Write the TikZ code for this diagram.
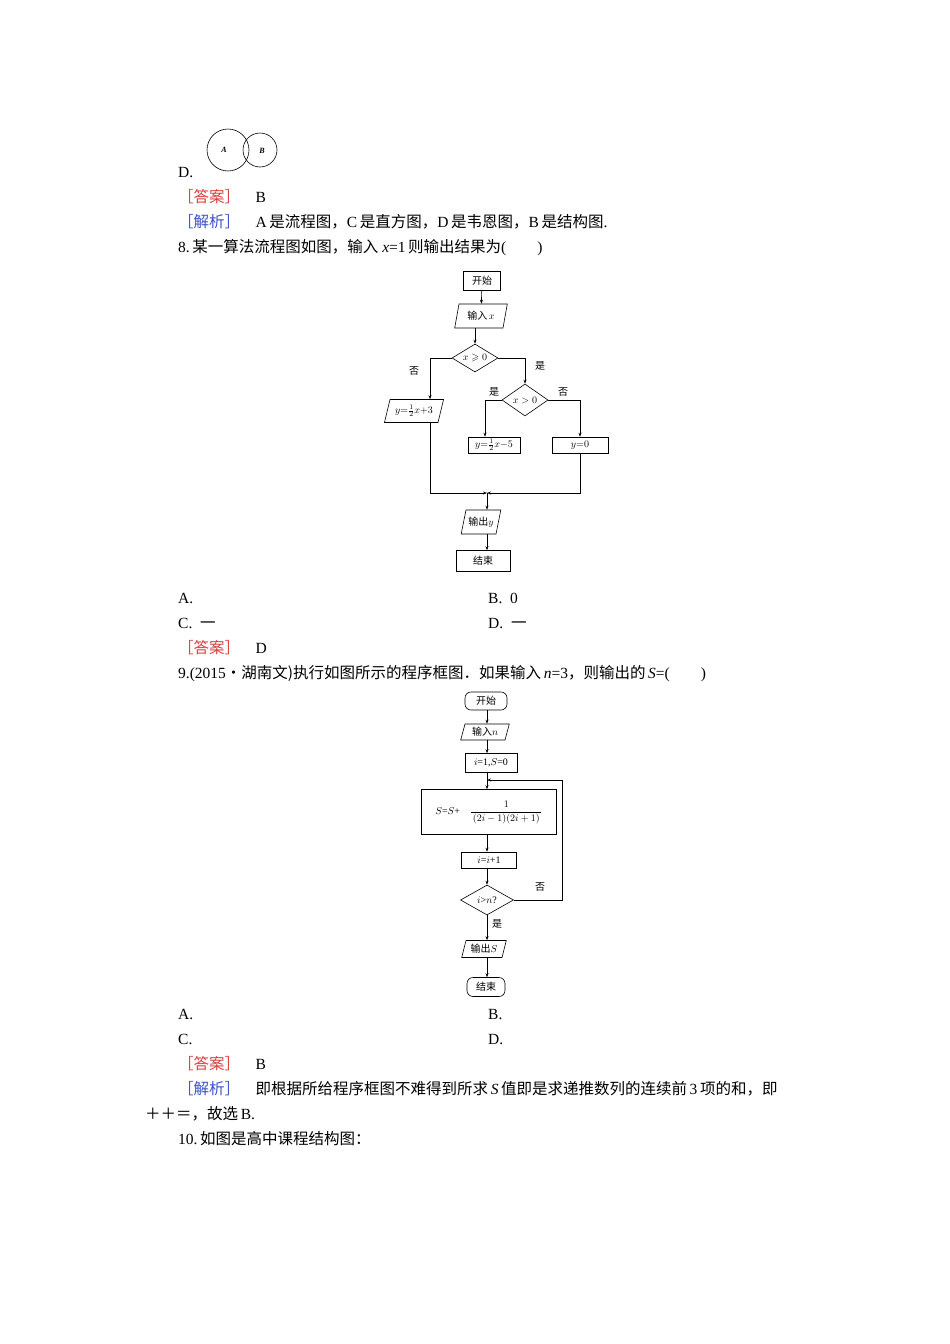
\documentclass[tikz,border=0pt]{standalone}
\usepackage{amsmath,amssymb}
\usepackage{fontspec}
\setmainfont{Liberation Serif}
\newfontfamily\cjk{Noto Sans CJK SC}
\usetikzlibrary{shapes.geometric,arrows.meta}
\newcommand{\zh}[1]{{\cjk #1}}
\definecolor{ansred}{RGB}{220,60,60}
\definecolor{ansblue}{RGB}{60,80,200}
\begin{document}
\begin{tikzpicture}[x=1pt,y=-1pt,
  txt/.style={anchor=base west,inner sep=0,font=\fontsize{15.5}{17}\selectfont},
  fc/.style={font=\fontsize{10}{11}\selectfont,inner sep=0},
  bx/.style={draw,line width=0.6pt,fc},
  rbx/.style={draw,line width=0.6pt,fc,rounded corners=6pt},
  para/.style={draw,line width=0.6pt,fc,trapezium,trapezium left angle=65,trapezium right angle=115,trapezium stretches=true},
  dia/.style={draw,line width=0.6pt,fc,diamond,aspect=1.6},
  ar/.style={line width=0.6pt,-{Stealth[length=4pt,width=3pt]}},
  ln/.style={line width=0.6pt},
  lab/.style={fc}]
\useasboundingbox[fill=white] (0,0) rectangle (950,1344);
% Venn
\draw[line width=0.6pt] (228,150) circle (21);
\draw[line width=0.6pt] (260,150) circle (17);
\node[fc,font=\fontsize{8}{9}\selectfont\itshape\bfseries] (va) at (224,150) {A};
\node[fc,font=\fontsize{8}{9}\selectfont\itshape\bfseries] (vb) at (262,151) {B};
\node[txt] (d7) at (178,177) {D.};
\node[txt] (a7) at (178,202) {\textcolor{ansred}{\zh{［答案］}}\quad B};
\node[txt] (j7) at (178,227) {\textcolor{ansblue}{\zh{［解析］}}\quad A\,\zh{是流程图，}C\,\zh{是直方图，}D\,\zh{是韦恩图，}B\,\zh{是结构图}.};
\node[txt] (q8) at (178,252) {8.\,\zh{某一算法流程图如图，输入} \textit{x}=1\,\zh{则输出结果为}(\qquad)};
% Flowchart 1
\node[bx,minimum width=37,minimum height=19] (s1) at (482,281) {\zh{开始}};
\node[para,text width=44,align=center,minimum height=24] (in1) at (481,316) {\zh{输入}\,$x$};
\node[dia,minimum width=46,minimum height=28] (d1) at (475,358) {$x\geqslant0$};
\node[para,text width=48,align=center,minimum height=23] (p1) at (414,411) {$y{=}\tfrac12x{+}3$};
\node[dia,minimum width=46,minimum height=32] (d2) at (525,400) {$x>0$};
\node[bx,minimum width=52,minimum height=16] (b1) at (494,445) {$y{=}\tfrac12x{-}5$};
\node[bx,minimum width=56,minimum height=16] (b2) at (580,445) {$y{=}0$};
\coordinate (m) at (487,493);
\node[para,text width=30,align=center,minimum height=24] (o1) at (481,522) {\zh{输出}$y$};
\node[bx,minimum width=54,minimum height=21] (e1) at (483,561) {\zh{结束}};
\draw[ar] (s1) -- (in1);
\draw[ar] (in1.south -| d1.north) -- (d1);
\draw[ar] (d1.west) -| (p1.north -| 430,0);
\draw[ar] (d1.east) -| (d2.north);
\draw[ar] (d2.west) -| (b1.north -| 485,0);
\draw[ar] (d2.east) -| (b2.north);
\draw[ar] (p1.south -| 430,0) |- (m);
\draw[ar] (b2.south) |- (m);
\draw[ar] (m) -- (o1.north -| m);
\draw[ar] (o1.south -| m) -- (e1.north -| m);
\node[lab] (l1) at (414,371) {\zh{否}};
\node[lab] (l2) at (540,366) {\zh{是}};
\node[lab] (l3) at (494,392) {\zh{是}};
\node[lab] (l4) at (563,392) {\zh{否}};
\node[txt] (oa) at (178,603) {A.};
\node[txt] (ob) at (488,603) {B.\enspace 0};
\node[txt] (oc) at (178,628) {C.\enspace \zh{一}};
\node[txt] (od) at (488,628) {D.\enspace \zh{一}};
\node[txt] (a8) at (178,653) {\textcolor{ansred}{\zh{［答案］}}\quad D};
\node[txt] (q9) at (178,678) {9.(2015\zh{·湖南文)执行如图所示的程序框图．如果输入}\,\textit{n}=3\zh{，则输出的}\,\textit{S}=(\qquad)};
% Flowchart 2
\node[rbx,minimum width=42,minimum height=18] (s2) at (486,701) {\zh{开始}};
\node[para,text width=40,align=center,minimum height=16] (in2) at (485,732) {\zh{输入}$n$};
\node[bx,minimum width=52,minimum height=19] (i2) at (491,763) {$i$=1,$S$=0};
\node[bx,minimum width=135,minimum height=45] (big) at (489,812) {$S$=$S$+\quad $\dfrac{\mathstrut 1}{\,(2i-1)(2i+1)\,}$};
\node[bx,minimum width=55,minimum height=16] (inc) at (489,860) {$i$=$i$+1};
\node[dia,minimum width=53,minimum height=30] (d3) at (487,900) {$i$>$n$?};
\node[para,text width=36,align=center,minimum height=17] (o2) at (484,949) {\zh{输出}$S$};
\node[rbx,minimum width=38,minimum height=19] (e2) at (486,987) {\zh{结束}};
\coordinate (lp) at (487,780);
\draw[ar] (s2.south -| lp) -- (in2.north -| lp);
\draw[ar] (in2.south -| lp) -- (i2.north -| lp);
\draw[ln] (i2.south -| lp) -- (lp);
\draw[ar] (lp) -- (big.north -| lp);
\draw[ar] (big.south -| lp) -- (inc.north -| lp);
\draw[ar] (inc.south -| lp) -- (d3.north);
\draw[ar] (d3.east) -| (562,780) -- (lp);
\draw[ar] (d3.south) -- (o2.north -| d3.south);
\draw[ar] (o2.south -| d3.south) -- (e2.north -| d3.south);
\node[lab] (l5) at (540,887) {\zh{否}};
\node[lab] (l6) at (497,924) {\zh{是}};
\node[txt] (pa) at (178,1019) {A.};
\node[txt] (pb) at (488,1019) {B.};
\node[txt] (pc) at (178,1044) {C.};
\node[txt] (pd) at (488,1044) {D.};
\node[txt] (a9) at (178,1069) {\textcolor{ansred}{\zh{［答案］}}\quad B};
\node[txt] (j9) at (178,1094) {\textcolor{ansblue}{\zh{［解析］}}\quad \zh{即根据所给程序框图不难得到所求}\,\textit{S}\,\zh{值即是求递推数列的连续前}\,3\,\zh{项的和，即}};
\node[txt] (j9b) at (145,1119) {\zh{＋＋＝，故选}\,B.};
\node[txt] (q10) at (178,1144) {10.\,\zh{如图是高中课程结构图：}};
\end{tikzpicture}
\end{document}
